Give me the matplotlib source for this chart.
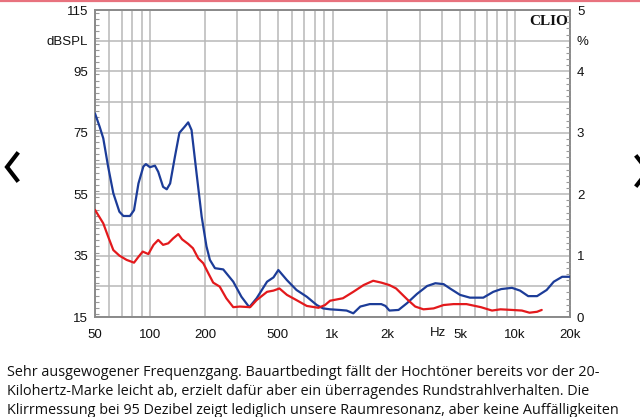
import matplotlib
matplotlib.use("Agg")
import matplotlib.pyplot as plt
from matplotlib.ticker import FixedLocator, FixedFormatter, NullFormatter, MultipleLocator
from matplotlib.lines import Line2D

# ---------------- data ----------------
blue_f = [50, 53, 55.5, 59, 63, 68, 71.5, 77.7, 81.8, 86.5, 92, 95, 100, 106.5, 111, 118,
          123.6, 129, 137, 145, 155, 162, 169, 180, 192, 204, 213, 227, 252, 286, 317, 350,
          384, 438, 475, 505, 563, 635, 723, 820, 888, 970, 1090, 1195, 1300, 1420, 1600,
          1850, 1950, 2050, 2300, 2560, 2900, 3300, 3660, 4060, 4400, 5000, 5660, 6700,
          7600, 8400, 9620, 10650, 11800, 13200, 14900, 16300, 18120, 20000]
blue_db = [81.3, 77.0, 73.2, 64.0, 55.3, 49.3, 47.9, 47.9, 49.8, 58.5, 64.0, 64.8, 63.8, 64.3,
           62.3, 57.4, 56.6, 58.5, 67.2, 75.0, 77.0, 78.4, 75.9, 61.8, 47.7, 38.0, 33.6, 30.9,
           30.5, 26.5, 21.6, 18.2, 21.1, 26.5, 27.9, 30.3, 27.0, 23.8, 21.6, 18.9, 17.8, 17.5,
           17.3, 17.1, 16.2, 18.4, 19.2, 19.2, 18.6, 17.1, 17.3, 19.5, 22.5, 25.1, 26.0, 25.7,
           24.3, 22.2, 21.3, 21.3, 23.2, 24.1, 24.5, 23.6, 21.8, 21.8, 23.8, 26.5, 28.1, 28.1]

red_f = [50, 55.5, 59, 63, 68, 74.5, 81.8, 86.5, 91.3, 98, 104.6, 111, 118, 126, 134, 143, 150,
         162, 172, 184, 196, 209, 222, 241, 262, 286, 311, 354, 384, 438, 475, 512, 563, 635,
         723, 838, 910, 970, 1140, 1300, 1480, 1670, 1850, 2050, 2230, 2560, 2840, 3150, 3580,
         4060, 4600, 5420, 6500, 7480, 8320, 9620, 10900, 12000, 13200, 14000]
red_db = [49.9, 45.5, 41.2, 36.8, 35.0, 33.6, 32.7, 34.6, 36.3, 35.5, 38.5, 40.1, 38.5, 39.0,
          40.6, 42.0, 40.3, 38.8, 37.4, 34.1, 32.5, 29.2, 26.2, 24.9, 21.1, 18.2, 18.4, 18.2,
          20.5, 23.2, 23.6, 24.3, 22.2, 20.5, 18.6, 18.0, 18.9, 20.3, 21.1, 23.2, 25.4, 26.8,
          26.2, 25.4, 24.3, 20.8, 18.4, 17.5, 17.8, 18.9, 19.2, 19.2, 18.2, 17.1, 17.5, 17.3,
          17.1, 16.4, 16.7, 17.3]

x_ticks = [50, 100, 200, 500, 1000, 2000, 5000, 10000, 20000]
x_labels = ["50", "100", "200", "500", "1k", "2k", "5k", "10k", "20k"]
y_ticks = [15, 25, 35, 45, 55, 65, 75, 85, 95, 105, 115]
y_labels = ["15", "", "35", "", "55", "", "75", "", "95", "dBSPL", "115"]
r_ticks = [0, 0.5, 1, 1.5, 2, 2.5, 3, 3.5, 4, 4.5, 5]
r_labels = ["0", "", "1", "", "2", "", "3", "", "4", "%", "5"]

caption = ["Sehr ausgewogener Frequenzgang. Bauartbedingt fällt der Hochtöner bereits vor der 20-",
           "Kilohertz-Marke leicht ab, erzielt dafür aber ein überragendes Rundstrahlverhalten. Die",
           "Klirrmessung bei 95 Dezibel zeigt lediglich unsere Raumresonanz, aber keine Auffälligkeiten"]

# ---------------- figure ----------------
W, H = 640, 417
fig = plt.figure(figsize=(W / 100, H / 100), dpi=100)
fig.patch.set_facecolor("white")
plt.rcParams["font.family"] = ["Liberation Sans", "DejaVu Sans"]

ax = fig.add_axes([95 / W, 1 - 317 / H, 475 / W, 307 / H])
ax.set_xscale("log")
ax.set_xlim(50, 20000)
ax.set_ylim(15, 115)

grid_c = "#b8b8b8"
ax.xaxis.set_major_locator(FixedLocator(x_ticks))
ax.xaxis.set_major_formatter(FixedFormatter(x_labels))
minor_x = [m * 10 ** e for e in range(1, 5) for m in range(1, 10)]
minor_x = [v for v in minor_x if 50 < v < 20000 and v not in x_ticks]
ax.xaxis.set_minor_locator(FixedLocator(minor_x))
ax.xaxis.set_minor_formatter(NullFormatter())
ax.grid(True, which="both", axis="x", color=grid_c, lw=1.1)
ax.tick_params(axis="x", which="both", length=0, pad=9, labelsize=9.5, colors="#111111")

ax.yaxis.set_major_locator(FixedLocator(y_ticks))
ax.yaxis.set_major_formatter(FixedFormatter(y_labels))
ax.yaxis.set_minor_locator(MultipleLocator(2))
ax.grid(True, which="major", axis="y", color=grid_c, lw=1.1)
ax.tick_params(axis="y", which="major", length=0, pad=5, labelsize=9.5, colors="#111111")
ax.tick_params(axis="y", which="minor", direction="in", length=3, color="#999999", width=0.8)

for s in ax.spines.values():
    s.set_color("#8a8a8a")
    s.set_linewidth(1.4)

ax.plot(blue_f, blue_db, color="#1c3c98", lw=1.6, zorder=3,
        solid_joinstyle="round", solid_capstyle="round")
ax.plot(red_f, red_db, color="#e3191c", lw=1.6, zorder=3,
        solid_joinstyle="round", solid_capstyle="round")

ax2 = ax.twinx()
ax2.set_ylim(0, 5)
ax2.yaxis.set_major_locator(FixedLocator(r_ticks))
ax2.yaxis.set_major_formatter(FixedFormatter(r_labels))
ax2.yaxis.set_minor_locator(MultipleLocator(0.1))
ax2.tick_params(axis="y", which="major", length=0, pad=5, labelsize=9.5, colors="#111111")
ax2.tick_params(axis="y", which="minor", direction="in", length=3, color="#999999", width=0.8)
for s in ax2.spines.values():
    s.set_visible(False)

ax.text(0.995, 0.985, "CLIO", transform=ax.transAxes, ha="right", va="top",
        family=["Liberation Serif", "DejaVu Serif"], fontweight="bold", fontsize=11, color="#111111")
fig.text(438 / W, 1 - 333 / H, "Hz", ha="center", va="center", fontsize=9.5, color="#111111")

# page decorations
fig.add_artist(Line2D([0, 1], [1 - 1 / H, 1 - 1 / H], color="#e8727e", lw=1.6))
fig.add_artist(Line2D([17 / W, 7 / W, 17 / W], [1 - 154 / H, 1 - 167 / H, 1 - 180 / H],
                      color="black", lw=3.0, solid_joinstyle="miter"))
fig.add_artist(Line2D([637 / W, 648 / W, 637 / W], [1 - 157 / H, 1 - 171 / H, 1 - 185 / H],
                      color="black", lw=3.0))

for i, line in enumerate(caption):
    fig.text(7 / W, 1 - (373 + 18.5 * i) / H, line, ha="left", va="center",
             family=["Open Sans", "DejaVu Sans"], fontsize=10.4, color="#111111")

fig.savefig("out.png", dpi=100, facecolor="white")
